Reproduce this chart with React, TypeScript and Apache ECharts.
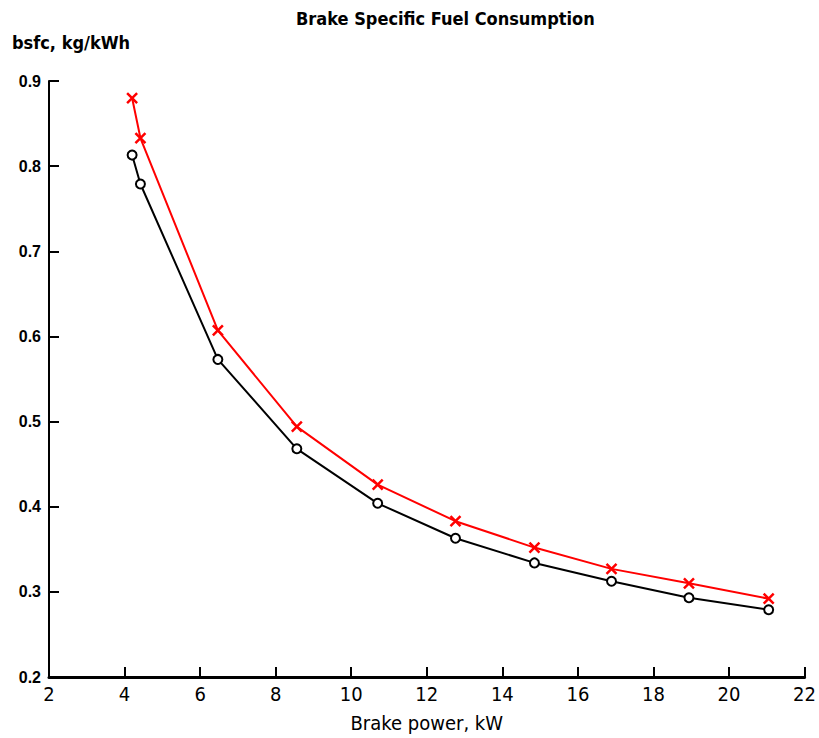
import React, { useEffect, useRef } from "react";
import * as echarts from "echarts";

const titleText = "Brake Specific Fuel Consumption";
const yAxisName = "bsfc, kg/kWh";
const xAxisName = "Brake power, kW";

const powerKW = [4.2, 4.42, 6.47, 8.56, 10.7, 12.76, 14.85, 16.89, 18.94, 21.05];
const bsfcRed = [0.88, 0.833, 0.607, 0.494, 0.426, 0.383, 0.352, 0.327, 0.31, 0.292];
const bsfcBlack = [0.813, 0.779, 0.573, 0.468, 0.404, 0.363, 0.334, 0.3125, 0.293, 0.279];

const narrow = "'Liberation Sans Narrow', 'Arial Narrow', 'DejaVu Sans Condensed', sans-serif";
const sans = "'Liberation Sans', Arial, sans-serif";

export default function App() {
  const ref = useRef<HTMLDivElement>(null);
  useEffect(() => {
    if (!ref.current) return;
    const chart = echarts.init(ref.current, null, { renderer: "svg" });
    const pairs = (ys: number[]) => powerKW.map((x, i) => [x, ys[i]]);
    chart.setOption({
      animation: false,
      backgroundColor: "#ffffff",
      grid: { left: 49, right: 11, top: 81, bottom: 61 },
      graphic: [
        {
          type: "text",
          left: 296,
          top: 9,
          style: { text: titleText, font: `bold 18px ${narrow}`, fill: "#000" },
        },
        {
          type: "text",
          left: 12,
          top: 33,
          style: { text: yAxisName, font: `bold 18px ${narrow}`, fill: "#000" },
        },
      ],
      xAxis: {
        type: "value",
        min: 2,
        max: 22,
        interval: 2,
        name: xAxisName,
        nameLocation: "middle",
        nameGap: 36,
        nameTextStyle: { fontFamily: narrow, fontSize: 20, color: "#000" },
        axisLine: { show: true, onZero: false, lineStyle: { color: "#000", width: 3 } },
        axisTick: { show: true, inside: true, length: 10, lineStyle: { color: "#000", width: 2 } },
        axisLabel: { fontFamily: narrow, fontSize: 20, color: "#000", margin: 7 },
        splitLine: { show: false },
      },
      yAxis: {
        type: "value",
        min: 0.2,
        max: 0.9,
        interval: 0.1,
        axisLine: { show: true, onZero: false, lineStyle: { color: "#000", width: 2 } },
        axisTick: { show: true, inside: true, length: 10, lineStyle: { color: "#000", width: 2 } },
        axisLabel: {
          fontFamily: sans,
          fontWeight: "bold",
          fontSize: 16,
          color: "#000",
          margin: 8,
          formatter: (v: number) => v.toFixed(1),
        },
        splitLine: { show: false },
      },
      series: [
        {
          type: "line",
          data: pairs(bsfcBlack),
          symbol: "emptyCircle",
          symbolSize: 9,
          lineStyle: { color: "#000", width: 2 },
          itemStyle: { color: "#000", borderColor: "#000", borderWidth: 2 },
        },
        {
          type: "line",
          data: pairs(bsfcRed),
          symbol: "path://M0,0L10,10M10,0L0,10",
          symbolSize: 10,
          lineStyle: { color: "#ff0000", width: 2 },
          itemStyle: { color: "#ff0000", borderColor: "#ff0000", borderWidth: 2.5 },
        },
      ],
    });
    return () => chart.dispose();
  }, []);
  return (
    <div
      ref={ref}
      style={{ position: "absolute", left: 0, top: 0, width: 819, height: 738 }}
    />
  );
}
